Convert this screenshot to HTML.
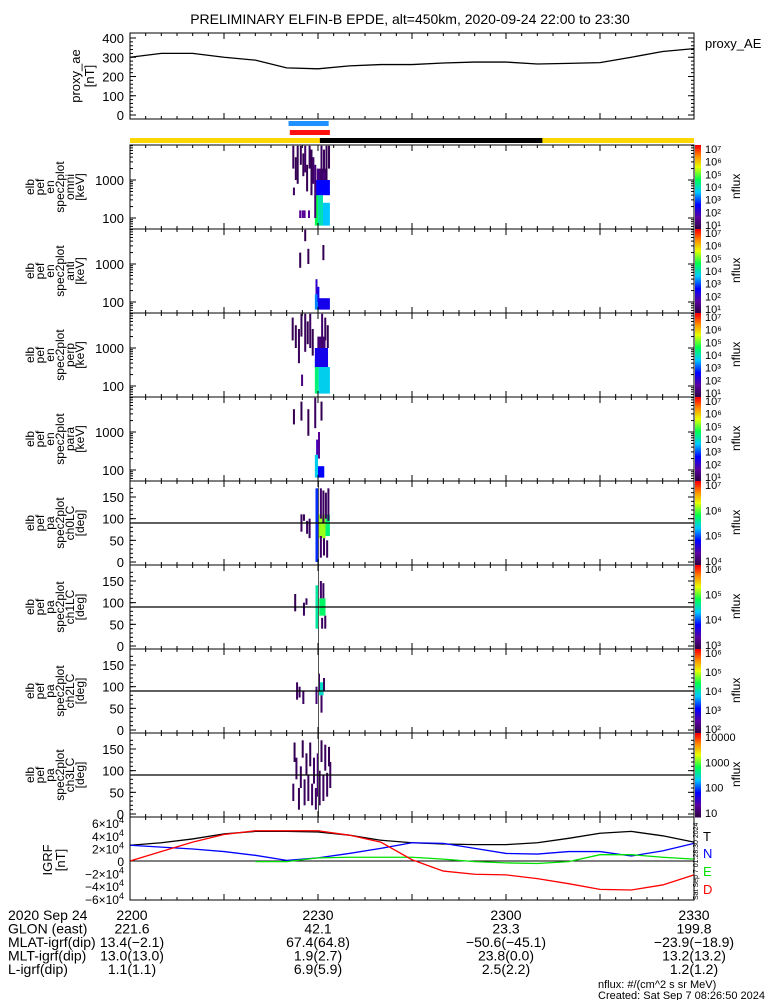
<!DOCTYPE html>
<html><head><meta charset="utf-8">
<style>
body{margin:0;background:#fff;}
svg{display:block;font-family:"Liberation Sans",sans-serif;}
text{fill:#000;}
</style></head>
<body>
<svg id="c" width="775" height="1000" viewBox="0 0 775 1000"></svg>
<script>
// ---- data ----
const aeTimes=[0,5,10,15,20,25,30,35,40,45,50,55,60,65,70,75,80,85,90];
const aeValues=[300,320,320,300,285,245,240,255,262,262,270,275,275,265,268,272,300,330,345];
const aeTicks=[0,100,200,300,400];
const igrfTimes=[0,5,10,15,20,25,30,35,40,45,50,55,60,65,70,75,80,85,90];
const igrfT=[2.5,2.9,3.5,4.3,4.7,4.7,4.6,4.1,3.3,2.9,2.7,2.6,2.6,2.9,3.6,4.4,4.7,4.0,3.0];
const igrfN=[2.5,2.2,1.9,1.5,0.9,0.1,0.5,1.2,2.0,2.9,2.8,2.0,1.2,1.1,1.5,1.5,0.8,1.6,2.8];
const igrfE=[0.0,null,null,null,-0.1,-0.1,0.5,0.6,0.6,0.6,0.3,-0.1,-0.3,-0.4,-0.1,1.0,1.0,0.6,0.3];
const igrfD=[0,1.5,3.0,4.2,4.8,4.8,4.8,4.1,3.0,0.2,-1.6,-2.1,-2.2,-2.8,-3.6,-4.5,-4.6,-3.8,-2.2];
const igrfTickVals=[6,4,2,0,-2,-4,-6];
// thin strokes: [time(min), low, high, logFlux]
const omniStrokes=[[25.9,3.3,3.9,1.3],[26.3,3.0,3.6,1.2],[26.6,2.9,3.9,1.2],[27.1,3.4,3.9,1.3],[27.5,3.1,3.7,1.2],[27.8,3.2,3.9,1.4],[28.1,2.7,3.4,1.2],[28.5,3.3,3.9,1.3],[28.8,2.6,3.8,1.2],[29.1,2.9,3.6,1.4],[29.4,2.0,3.4,1.5],[30.4,3.0,3.9,1.3],[30.8,3.2,3.8,1.3],[31.2,3.0,3.9,1.2],[31.6,3.3,3.9,1.2],[27.0,2.0,2.2,1.8],[27.4,2.0,2.2,1.8],[27.7,2.0,2.2,1.8],[28.4,2.0,2.2,1.8],[26.0,2.6,2.8,1.3]];
const omniBlocks=[[29.5,30.0,1.8,2.7,4.6],[30.0,30.8,1.8,2.6,4.1],[30.8,31.9,1.8,2.4,3.7],[29.5,31.9,2.6,3.0,2.8],[29.8,31.5,3.0,3.3,1.6]];
const antiStrokes=[[27.0,2.9,3.3,1.2],[28.3,3.0,3.4,1.2],[30.7,3.1,3.5,1.2],[29.6,2.2,2.6,2.3],[29.9,2.0,2.4,2.6],[27.8,3.6,3.9,1.2]];
const antiBlocks=[[29.5,30.0,1.8,2.2,3.4],[30.0,31.9,1.8,2.1,2.6]];
const perpStrokes=[[25.8,3.2,3.8,1.2],[26.3,3.0,3.6,1.2],[26.8,2.6,3.5,1.3],[27.2,3.3,3.9,1.2],[27.8,2.9,3.9,1.3],[28.2,3.1,3.7,1.2],[28.6,3.0,3.9,1.3],[29.0,2.8,3.5,1.2],[30.5,3.1,3.9,1.4],[31.0,3.2,3.8,1.3],[31.4,3.0,3.6,1.2],[27.3,2.0,2.3,1.6]];
const perpBlocks=[[29.5,30.1,1.8,2.7,4.4],[30.1,31.9,1.8,2.5,3.8],[29.5,31.6,2.5,3.0,2.6],[29.9,31.2,3.0,3.3,1.5]];
const paraStrokes=[[26.0,3.2,3.6,1.2],[27.2,3.3,3.8,1.2],[28.3,2.9,3.6,1.2],[29.4,3.1,3.9,1.3],[30.4,3.3,3.8,1.2],[30.0,2.3,3.0,1.8],[29.7,2.4,2.8,2.1]];
const paraBlocks=[[29.5,30.0,1.8,2.4,3.8],[30.0,31.0,1.8,2.1,2.8]];
// pitch strokes: [time, paLow, paHigh, logFlux]
const pa0Strokes=[[27.2,70,110,1.3],[27.6,95,110,1.3],[28.1,65,95,1.3],[28.5,55,100,1.3],[30.3,100,170,1.4],[30.7,90,165,1.3],[31.1,100,160,1.3],[31.5,95,170,1.3],[30.3,10,60,1.4],[30.8,15,55,1.3],[31.3,10,50,1.3]];
const pa0Blocks=[[29.6,30.0,0,170,3.0],[30.0,31.2,55,110,5.2],[31.2,31.9,60,110,4.4]];
const pa1Strokes=[[26.2,80,120,1.2],[27.6,70,100,1.3],[28.0,95,110,1.3],[30.3,110,150,1.4],[30.7,110,145,1.3],[31.0,40,70,1.3],[30.5,40,65,1.3]];
const pa1Blocks=[[29.6,30.0,40,140,4.2],[30.2,31.2,70,110,4.5]];
const pa2Strokes=[[26.5,70,110,1.3],[26.9,75,100,1.3],[27.5,60,90,1.3],[30.0,90,130,1.4],[30.4,40,80,1.3],[30.8,90,120,1.3],[29.6,60,100,1.5]];
const pa2Blocks=[[30.1,30.9,80,110,4.0]];
const pa3Strokes=[[25.9,30,70,1.3],[26.1,120,165,1.2],[26.4,80,130,1.3],[26.8,10,60,1.2],[27.1,60,110,1.3],[27.4,130,170,1.2],[27.7,20,80,1.3],[28.0,90,140,1.2],[28.3,30,90,1.3],[28.6,110,165,1.2],[28.9,20,70,1.3],[29.2,70,130,1.3],[29.5,10,60,1.3],[29.8,40,140,1.6],[30.1,20,100,1.3],[30.4,120,170,1.2],[30.7,30,90,1.3],[31.0,100,160,1.3],[31.3,40,95,1.3],[31.6,110,155,1.2],[31.8,60,120,1.3]];
const pa3Blocks=[];
// ---- layout ----
const svg=document.getElementById('c');
const NS='http://www.w3.org/2000/svg';
const X0=130,X1=694;
function tx(m){return X0+(X1-X0)*m/90;}
function el(tag,attrs,parent){const e=document.createElementNS(NS,tag);for(const k in attrs)e.setAttribute(k,attrs[k]);(parent||svg).appendChild(e);return e;}
function txt(s,x,y,size,anchor,parent,rot){const t=el('text',{x:x,y:y,'font-size':size,'text-anchor':anchor||'start'},parent);if(rot)t.setAttribute('transform','rotate(-90 '+x+' '+y+')');t.textContent=s;return t;}
function cmap(v,vmin,vmax){let f=(v-vmin)/(vmax-vmin);f=Math.max(0,Math.min(1,f));
 const stops=[[0,[40,0,60]],[0.15,[90,0,160]],[0.3,[0,0,255]],[0.45,[0,200,255]],[0.6,[0,255,80]],[0.75,[230,255,0]],[0.88,[255,140,0]],[1,[255,0,0]]];
 for(let i=1;i<stops.length;i++){if(f<=stops[i][0]){const a=stops[i-1],b=stops[i];const g=(f-a[0])/(b[0]-a[0]);return 'rgb('+a[1].map((c,j)=>Math.round(c+(b[1][j]-c)*g)).join(',')+')';}}return 'rgb(255,0,0)';}
function timeTicks(g,top,bot){for(let m=0;m<=90;m+=2.5){const x=tx(m);const big=(m%15===0);el('line',{x1:x,x2:x,y1:bot,y2:bot-(big?6:3),stroke:'#000'},g);el('line',{x1:x,x2:x,y1:top,y2:top+(big?6:3),stroke:'#000'},g);}}
function frame(g,top,bot){el('rect',{x:X0,y:top,width:X1-X0,height:bot-top,fill:'none',stroke:'#000'},g);timeTicks(g,top,bot);}
function colorbar(g,top,bot,labels){const n=40;for(let i=0;i<n;i++){el('rect',{x:695,y:top+(bot-top)*i/n,width:6,height:(bot-top)/n+0.5,fill:cmap(1-i/n,0,1)},g);}
 labels.forEach((l,i)=>{const y=top+4+(bot-top-8)*i/(labels.length-1);txt(l,705,y+4,11,'start',g);});
 txt('nflux',740,(top+bot)/2+12,12,'start',g,true);}
function line(g,times,vals,fx,fy,color){let d='';let pen=false;times.forEach((t,i)=>{const v=vals[i];if(v===null){pen=false;return;}d+=(pen?'L':'M')+fx(t)+' '+fy(v)+' ';pen=true;});el('path',{d:d,fill:'none',stroke:color,'stroke-width':1.3},g);}
function drawBlocks(g,blocks,strokes,fy,vmin){
 blocks.forEach(b=>{const r=el('rect',{x:tx(b[0]),y:fy(b[3]),width:tx(b[1])-tx(b[0]),height:fy(b[2])-fy(b[3]),fill:cmap(b[4],vmin,7)},g);});
 strokes.forEach(s=>{const r=el('rect',{x:tx(s[0]),y:fy(s[2]),width:2,height:fy(s[1])-fy(s[2]),fill:cmap(s[3],vmin,7)},g);});}

// title
const title=txt('PRELIMINARY ELFIN-B EPDE, alt=450km, 2020-09-24 22:00 to 23:30',410,24,14,'middle');


// ---- AE panel ----
const gAE=el('g',{});
const aeTop=33,aeBot=119;const aeY=v=>115-(115-38)*v/400;
frame(gAE,aeTop,aeBot);
aeTicks.forEach(v=>{txt(String(v),124,aeY(v)+5,13,'end',gAE);el('line',{x1:X0,x2:X0+6,y1:aeY(v),y2:aeY(v),stroke:'#000'},gAE);el('line',{x1:X1,x2:X1-6,y1:aeY(v),y2:aeY(v),stroke:'#000'},gAE);});
for(let v=0;v<=400;v+=20){el('line',{x1:X0,x2:X0+3,y1:aeY(v),y2:aeY(v),stroke:'#000'},gAE);el('line',{x1:X1,x2:X1-3,y1:aeY(v),y2:aeY(v),stroke:'#000'},gAE);}
line(gAE,aeTimes,aeValues,tx,aeY,'#000');
txt('proxy_ae',80,76,13,'middle',gAE,true);txt('[nT]',94,76,13,'middle',gAE,true);
txt('proxy_AE',705,48,13,'start',gAE);

// bars
const bb=el('rect',{x:tx(25.3),y:121,width:tx(31.7)-tx(25.3),height:5,fill:'#1e90ff'});
const rb=el('rect',{x:tx(25.5),y:130,width:tx(31.9)-tx(25.5),height:5,fill:'#ff1010'});
const yb=el('rect',{x:X0,y:138,width:X1-X0,height:5,fill:'#ffd700'});
const kb=el('rect',{x:tx(30.3),y:138,width:tx(65.8)-tx(30.3),height:5,fill:'#000'});

// ---- energy spectrogram panels ----
const ePanels=[['omni',omniBlocks,omniStrokes],['anti',antiBlocks,antiStrokes],['perp',perpBlocks,perpStrokes],['para',paraBlocks,paraStrokes]];
ePanels.forEach((p,i)=>{const top=145+84*i,bot=top+84;
 const g=el('g',{});
 const ey=l=>top+73-(l-2)*38;
 drawBlocks(g,p[1],p[2],ey,1);
 frame(g,top,bot);
 [2,3].forEach(l=>{txt(String(Math.pow(10,l)),124,ey(l)+5,13,'end',g);});
 for(let d=1;d<=3;d++)for(let k=1;k<10;k++){const l=d+Math.log10(k);const y=ey(l);if(y<top||y>bot)continue;const w=k===1?6:3;el('line',{x1:X0,x2:X0+w,y1:y,y2:y,stroke:'#000'},g);el('line',{x1:X1,x2:X1-w,y1:y,y2:y,stroke:'#000'},g);}
 const cx=top+42;['elb','pef','en','spec2plot',p[0],'[keV]'].forEach((s,j)=>txt(s,34+j*10,cx,12,'middle',g,true));
 colorbar(g,top,bot,['10⁷','10⁶','10⁵','10⁴','10³','10²','10¹']);
});
// ---- pitch angle panels ----
const pPanels=[['ch0LC',pa0Blocks,pa0Strokes,['10⁷','10⁶','10⁵','10⁴']],['ch1LC',pa1Blocks,pa1Strokes,['10⁶','10⁵','10⁴','10³']],['ch2LC',pa2Blocks,pa2Strokes,['10⁶','10⁵','10⁴','10³','10²']],['ch3LC',pa3Blocks,pa3Strokes,['10000','1000','100','10']]];
pPanels.forEach((p,i)=>{const top=481+84*i,bot=top+84;
 const g=el('g',{});
 const py=a=>top+81-a*78/180;
 drawBlocks(g,p[1],p[2],py,1);
 el('rect',{x:tx(30),y:top,width:1,height:84,fill:'#555'},g);
 frame(g,top,bot);
 el('line',{x1:X0,x2:X1,y1:py(90),y2:py(90),stroke:'#000','stroke-width':1.3},g);
 [0,50,100,150].forEach(a=>{txt(String(a),124,py(a)+5,13,'end',g);el('line',{x1:X0,x2:X0+6,y1:py(a),y2:py(a),stroke:'#000'},g);el('line',{x1:X1,x2:X1-6,y1:py(a),y2:py(a),stroke:'#000'},g);});
 for(let a=10;a<180;a+=10){el('line',{x1:X0,x2:X0+3,y1:py(a),y2:py(a),stroke:'#000'},g);el('line',{x1:X1,x2:X1-3,y1:py(a),y2:py(a),stroke:'#000'},g);}
 const cx=top+42;['elb','pef','pa','spec2plot',p[0],'[deg]'].forEach((s,j)=>txt(s,34+j*10,cx,12,'middle',g,true));
 colorbar(g,top,bot,p[3]);
});
// ---- IGRF panel ----
const gI=el('g',{});
const iTop=817,iBot=900;const iy=v=>861-v*6.3;
el('line',{x1:X0,x2:X1,y1:iy(0),y2:iy(0),stroke:'#000'},gI);
line(gI,igrfTimes,igrfT,tx,iy,'#000');line(gI,igrfTimes,igrfN,tx,iy,'#0000ff');line(gI,igrfTimes,igrfE,tx,iy,'#00e000');line(gI,igrfTimes,igrfD,tx,iy,'#ff0000');
frame(gI,iTop,iBot);
igrfTickVals.forEach(v=>{const y=iy(v);const t=el('text',{x:124,y:y+5,'font-size':12,'text-anchor':'end'},gI);t.textContent=v===0?'0':(v<0?'−':'')+Math.abs(v)+'×10';if(v!==0){const s=el('tspan',{dy:-5,'font-size':9},t);s.textContent='4';}});
txt('IGRF',52,860,13,'middle',gI,true);txt('[nT]',65,860,13,'middle',gI,true);
[['T','#000',841],['N','#0000ff',858],['E','#00e000',876],['D','#ff0000',894]].forEach(l=>{const t=txt(l[0],703,l[2],13,'start',gI);t.setAttribute('style','fill:'+l[1]);});
txt('Sat Sep  7 01:28:30 2024',698,900,7,'start',gI,true);
// ---- footer ----
const gF=el('g',{});
const rows=[['2020 Sep 24','2200','2230','2300','2330'],['GLON (east)','221.6','42.1','23.3','199.8'],['MLAT-igrf(dip)','13.4(−2.1)','67.4(64.8)','−50.6(−45.1)','−23.9(−18.9)'],['MLT-igrf(dip)','13.0(13.0)','1.9(2.7)','23.8(0.0)','13.2(13.2)'],['L-igrf(dip)','1.1(1.1)','6.9(5.9)','2.5(2.2)','1.2(1.2)']];
rows.forEach((r,i)=>{const y=920+i*13.5;txt(r[0],8,y,14,'start',gF);[0,30,60,90].forEach((m,j)=>txt(r[j+1],j===0?132:tx(m),y,14,'middle',gF));});
txt('nflux: #/(cm^2 s sr MeV)',598,988,11,'start',gF);txt('Created: Sat Sep  7 08:26:50 2024',598,999,11,'start',gF);
</script>
</body></html>
